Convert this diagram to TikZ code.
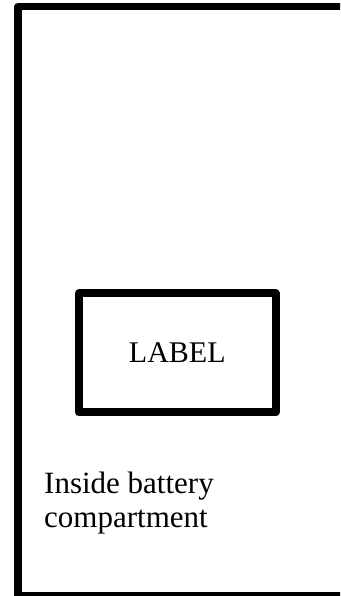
\documentclass[tikz,border=0pt]{standalone}
\usepackage{fontspec}
\setmainfont{Liberation Serif}
\begin{document}
\begin{tikzpicture}[x=1pt,y=-1pt,
  frame/.style={draw=black,line width=7.5pt,line join=round},
  labelbox/.style={draw=black,line width=8pt,line join=round,
    minimum width=196.5pt,minimum height=119pt,inner sep=0pt,
    font=\fontsize{30}{34}\selectfont},
  caption/.style={inner sep=0pt,align=left,font=\fontsize{31}{34}\selectfont}]
\useasboundingbox (0,0) rectangle (340,596);
\begin{scope}
\clip (0,0) rectangle (340,596);
\draw[frame] (18,6.5) rectangle (346,596);
\end{scope}
\node[labelbox] (lbl) at (177.25,352.9) {LABEL};
\node[caption,anchor=base west] (cap) at (44,527) {Inside battery\\compartment};
\end{tikzpicture}
\end{document}
